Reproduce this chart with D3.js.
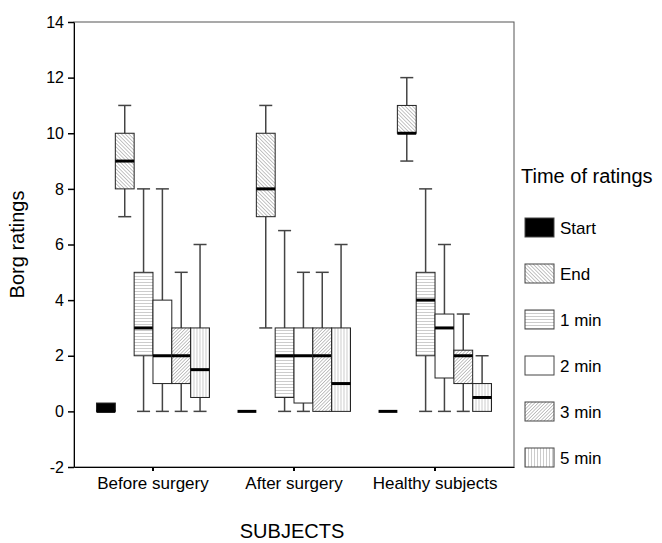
<!DOCTYPE html>
<html lang="en">
<head>
<meta charset="utf-8">
<title>Borg ratings</title>
<script src="https://d3js.org/d3.v7.min.js"></script>
<style>
  body { margin: 0; background: #fff; }
  text { font-family: Arial, "Liberation Sans", sans-serif; fill: #000; }
</style>
</head>
<body>
<div id="chart"></div>
<script>
// categories and series
var subjects = ["Before surgery", "After surgery", "Healthy subjects"];
var times = ["Start", "End", "1 min", "2 min", "3 min", "5 min"];
var yTicks = [-2, 0, 2, 4, 6, 8, 10, 12, 14];

// each row: [lower whisker, q1, median, q3, upper whisker], one row per time
var beforeSurgery = [
  [0, 0, 0, 0.3, 0.3],
  [7, 8, 9, 10, 11],
  [0, 2, 3, 5, 8],
  [0, 1, 2, 4, 8],
  [0, 1, 2, 3, 5],
  [0, 0.5, 1.5, 3, 6]
];
var afterSurgery = [
  [0, 0, 0, 0, 0],
  [3, 7, 8, 10, 11],
  [0, 0.5, 2, 3, 6.5],
  [0, 0.3, 2, 3, 5],
  [0, 0, 2, 3, 5],
  [0, 0, 1, 3, 6]
];
var healthySubjects = [
  [0, 0, 0, 0, 0],
  [9, 10, 10, 11, 12],
  [0, 2, 4, 5, 8],
  [0, 1.2, 3, 3.5, 6],
  [0, 1, 2, 2.2, 3.5],
  [0, 0, 0.5, 1, 2]
];
var stats = [beforeSurgery, afterSurgery, healthySubjects];

var width = 662, height = 543;
var plot = {left: 74, right: 514, top: 22, bottom: 467};

var svg = d3.select("#chart").append("svg")
    .attr("width", width)
    .attr("height", height);

// fill patterns
var defs = svg.append("defs");
function linePattern(id, angle, gap, color, w) {
  var p = defs.append("pattern")
      .attr("id", id)
      .attr("patternUnits", "userSpaceOnUse")
      .attr("width", gap).attr("height", gap)
      .attr("patternTransform", "rotate(" + angle + ")");
  p.append("rect").attr("width", gap).attr("height", gap).attr("fill", "#fff");
  p.append("line")
      .attr("x1", 0).attr("y1", 0).attr("x2", 0).attr("y2", gap)
      .attr("stroke", color).attr("stroke-width", w);
}
linePattern("pEnd", -45, 2.6, "#888", 1);
linePattern("pHoriz", 90, 3, "#999", 1);
linePattern("pDiag", 45, 2.4, "#888", 1);
linePattern("pVert", 0, 3, "#999", 1);

var fills = {
  "Start": "#000",
  "End": "url(#pEnd)",
  "1 min": "url(#pHoriz)",
  "2 min": "#fff",
  "3 min": "url(#pDiag)",
  "5 min": "url(#pVert)"
};

// scales
var x = d3.scaleBand()
    .domain(subjects)
    .range([plot.left, plot.right])
    .paddingInner(0)
    .paddingOuter(0.06);

var xIn = d3.scaleBand()
    .domain(times)
    .range([0, x.bandwidth()])
    .paddingInner(0)
    .paddingOuter(0.745);

var y = d3.scaleLinear()
    .domain([-2, 14])
    .range([plot.bottom, plot.top]);

// frame
svg.append("rect")
    .attr("x", plot.left).attr("y", plot.top)
    .attr("width", plot.right - plot.left)
    .attr("height", plot.bottom - plot.top)
    .attr("fill", "none")
    .attr("stroke", "#555")
    .attr("stroke-width", 1);

// axes
var yAxis = svg.append("g")
    .attr("transform", "translate(" + plot.left + ",0)")
    .call(d3.axisLeft(y).tickValues(yTicks).tickSize(6).tickPadding(4).tickSizeOuter(0)
      .tickFormat(function(d) { return String(d); }));
yAxis.select(".domain").attr("stroke", "#000");
yAxis.selectAll(".tick line").attr("stroke-width", 1.5);
yAxis.selectAll("text").style("font-size", "16px").style("font-family", "Arial, 'Liberation Sans', sans-serif");

var xAxis = svg.append("g")
    .attr("transform", "translate(0," + plot.bottom + ")")
    .call(d3.axisBottom(x).tickSize(4).tickPadding(6).tickSizeOuter(0));
xAxis.select(".domain").attr("stroke", "#000");
xAxis.selectAll("line").attr("stroke-width", 2);
xAxis.selectAll("text").style("font-size", "17px").style("font-family", "Arial, 'Liberation Sans', sans-serif");

// boxes
var bw = xIn.bandwidth();
var capW = 13;
subjects.forEach(function(s, si) {
  var g = svg.append("g").attr("transform", "translate(" + x(s) + ",0)");
  times.forEach(function(t, ti) {
    var d = stats[si][ti];
    var x0 = xIn(t), xc = x0 + bw / 2;
    // whiskers
    if (d[4] > d[3]) {
      g.append("line").attr("x1", xc).attr("x2", xc).attr("y1", y(d[3])).attr("y2", y(d[4]))
          .attr("stroke", "#444").attr("stroke-width", 1.5);
      g.append("line").attr("x1", xc - capW / 2).attr("x2", xc + capW / 2).attr("y1", y(d[4])).attr("y2", y(d[4]))
          .attr("stroke", "#444").attr("stroke-width", 1.5);
    }
    if (d[0] < d[1]) {
      g.append("line").attr("x1", xc).attr("x2", xc).attr("y1", y(d[1])).attr("y2", y(d[0]))
          .attr("stroke", "#444").attr("stroke-width", 1.5);
      g.append("line").attr("x1", xc - capW / 2).attr("x2", xc + capW / 2).attr("y1", y(d[0])).attr("y2", y(d[0]))
          .attr("stroke", "#444").attr("stroke-width", 1.5);
    }
    // box
    if (d[3] > d[1]) {
      g.append("rect")
          .attr("x", x0).attr("y", y(d[3]))
          .attr("width", bw).attr("height", y(d[1]) - y(d[3]))
          .attr("fill", fills[t])
          .attr("stroke", "#222").attr("stroke-width", 1);
    }
    // median
    g.append("line")
        .attr("x1", x0).attr("x2", x0 + bw)
        .attr("y1", y(d[2])).attr("y2", y(d[2]))
        .attr("stroke", "#000").attr("stroke-width", 3);
  });
});

// axis titles
svg.append("text")
    .attr("transform", "translate(24," + (plot.top + plot.bottom) / 2 + ") rotate(-90)")
    .attr("text-anchor", "middle")
    .style("font-size", "20px")
    .text("Borg ratings");

svg.append("text")
    .attr("x", (plot.left + plot.right) / 2 - 2)
    .attr("y", 538)
    .attr("text-anchor", "middle")
    .style("font-size", "20px")
    .text("SUBJECTS");

// legend
var legend = svg.append("g").attr("transform", "translate(521,0)");
legend.append("text")
    .attr("x", 0).attr("y", 183)
    .style("font-size", "20px")
    .text("Time of ratings");
var item = legend.selectAll(".item")
    .data(times)
    .enter().append("g")
    .attr("class", "item")
    .attr("transform", function(d, i) { return "translate(4," + (218 + i * 46) + ")"; });
item.append("rect")
    .attr("width", 29).attr("height", 19)
    .attr("fill", function(d) { return fills[d]; })
    .attr("stroke", "#444").attr("stroke-width", 1);
item.append("text")
    .attr("x", 35).attr("y", 15.5)
    .style("font-size", "17px")
    .text(function(d) { return d; });
</script>
</body>
</html>
